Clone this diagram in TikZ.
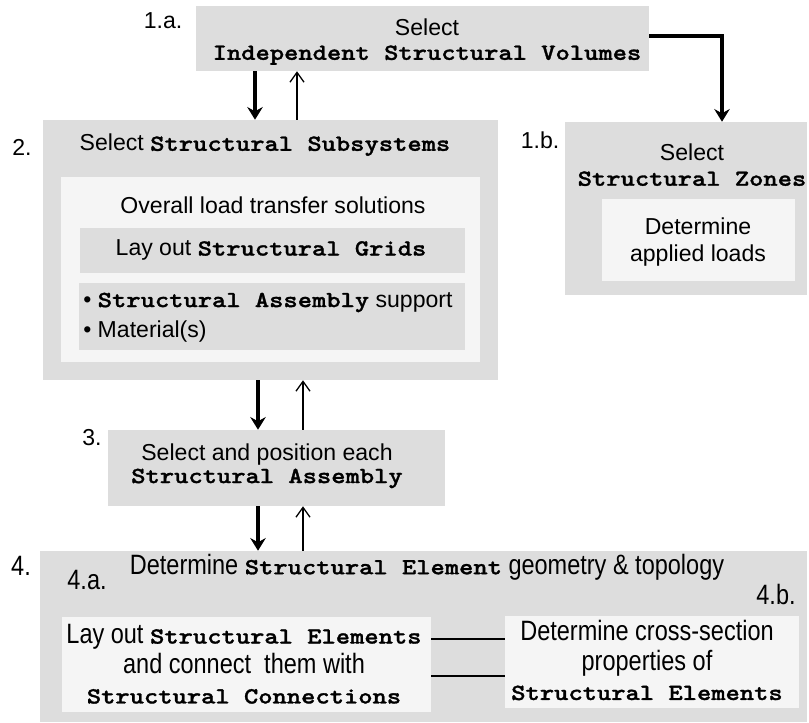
\documentclass[tikz,border=0pt]{standalone}
\usepackage{fontspec}
\setmainfont{Liberation Sans}
\newfontfamily\narrowsf{Liberation Sans}[FakeStretch=0.84]
\newfontfamily\codefont{lmmonolt10-bold.otf}[FakeStretch=1.18,FakeBold=1.3]
\usetikzlibrary{arrows.meta,fit}
\definecolor{boxgray}{RGB}{221,221,221}
\definecolor{boxlight}{RGB}{245,245,245}
\newcommand{\cn}[1]{{\fontsize{16.4}{17}\selectfont\codefont #1}}

\begin{document}
\begin{tikzpicture}[x=0.025cm,y=-0.025cm,
  graybox/.style={fill=boxgray,inner sep=0pt},
  lightbox/.style={fill=boxlight,inner sep=0pt},
  tx/.style={font=\fontsize{16.4}{#1}\selectfont,align=center,inner sep=0pt},
  tx/.default=17,
  ntx/.style={font=\fontsize{19.9}{#1}\selectfont\narrowsf,align=center,inner sep=0pt},
  ntx/.default=21.3,
  bigarrow/.style={line width=2.2pt,-{Stealth[length=9pt,width=11pt,inset=3pt]}},
  backarrow/.style={line width=0.9pt,-{Straight Barb[length=7pt,width=10pt]}}]
\path[use as bounding box] (0,0) rectangle (809,723);
% boxes
\node[graybox,fit={(196,6) (649,71)}] (vol) {};
\node[graybox,fit={(43,120) (498,380)}] (subsys) {};
\node[lightbox,fit={(61,177) (480,362)}] (load) {};
\node[graybox,fit={(80,228) (465,273)}] (grids) {};
\node[graybox,fit={(79,283) (465,350)}] (support) {};
\node[graybox,fit={(565,122) (807,295)}] (zones) {};
\node[lightbox,fit={(602,199) (795,281)}] (loads) {};
\node[graybox,fit={(108,430) (445,506)}] (assembly) {};
\node[graybox,fit={(40,551) (807,722)}] (elements) {};
\node[lightbox,fit={(62,617) (431,712)}] (layout) {};
\node[lightbox,fit={(505,616) (799,708)}] (section) {};
% texts
\node[tx] (volt) at (427,42) {Select\\\cn{Independent Structural Volumes}};
\node[tx] (la) at (163,21) {1.a.};
\node[tx] (subsyst) at (265,145) {Select \cn{Structural Subsystems}};
\node[tx] (lb) at (22,147) {2.};
\node[tx] (loadt) at (273,205) {Overall load transfer solutions};
\node[tx] (gridst) at (271,250) {Lay out \cn{Structural Grids}};
\node[tx=21.3,anchor=west,align=left] (supportt) at (83,317)
  {\textbullet\ \cn{Structural Assembly} support\\\textbullet\ Material(s)};
\node[tx=17.8] (zonest) at (692,165) {Select\\\cn{Structural Zones}};
\node[tx] (lc) at (540,140) {1.b.};
\node[tx=19.2] (loadst) at (698,242) {Determine\\applied loads};
\node[tx=16] (assemblyt) at (267,466) {Select and position each\\\cn{Structural Assembly}};
\node[tx] (ld) at (92,438) {3.};
\node[ntx] (elementst) at (427,567) {Determine \cn{Structural Element} geometry \& topology};
\node[ntx] (le) at (21,566) {4.};
\node[ntx] (lf) at (87,580) {4.a.};
\node[ntx] (lg) at (776,594) {4.b.};
\node[ntx] (layoutt) at (244,664) {Lay out \cn{Structural Elements}\\and connect\ \ them with\\\cn{Structural Connections}};
\node[ntx] (sectiont) at (647,660) {Determine cross-section\\properties of\\\cn{Structural Elements}};
% connectors
\draw[bigarrow] (vol.south -| 255,0) -- (subsys.north -| 255,0);
\draw[backarrow] (subsys.north -| 297,0) -- (vol.south -| 297,0);
\draw[bigarrow] (vol.east |- 0,36) -| (zones.north -| 722,0);
\draw[bigarrow] (subsys.south -| 258,0) -- (assembly.north -| 258,0);
\draw[backarrow] (assembly.north -| 303,0) -- (subsys.south -| 303,0);
\draw[bigarrow] (assembly.south -| 258,0) -- (elements.north -| 258,0);
\draw[backarrow] (elements.north -| 303,0) -- (assembly.south -| 303,0);
\draw[line width=0.8pt] (layout.east |- 0,639) -- (section.west |- 0,639);
\draw[line width=0.8pt] (layout.east |- 0,676) -- (section.west |- 0,676);
\end{tikzpicture}
\end{document}
